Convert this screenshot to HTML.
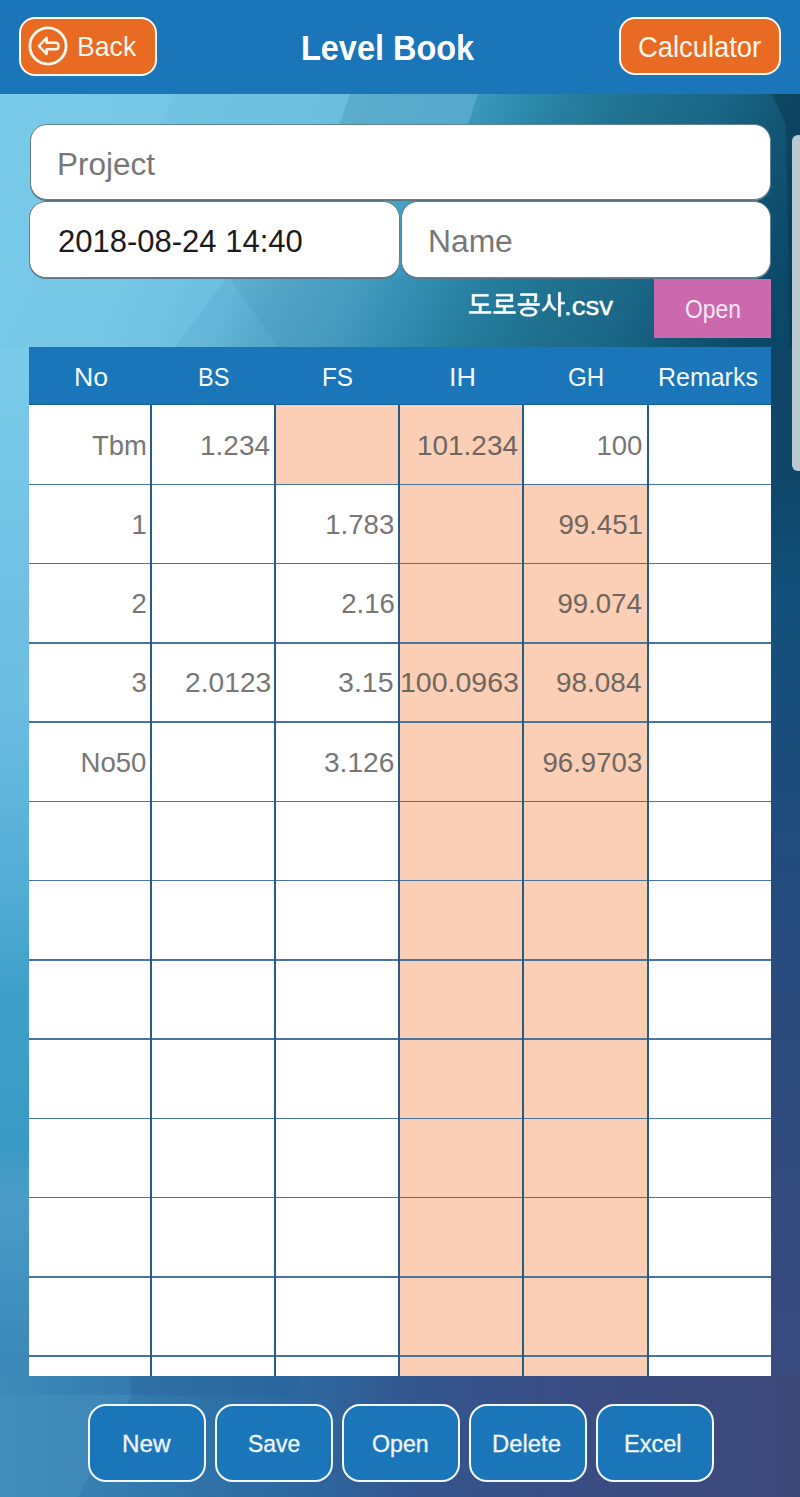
<!DOCTYPE html>
<html><head><meta charset="utf-8"><style>
html,body{margin:0;padding:0;width:800px;height:1497px;overflow:hidden;background:#2f80b4}
body{position:relative;font-family:"Liberation Sans",sans-serif}
.abs{position:absolute}
.tx{position:absolute;white-space:nowrap;transform-origin:0 0;font-family:"Liberation Sans",sans-serif}
</style></head><body>
<svg class="abs" style="left:0;top:0" width="800" height="400"><defs><linearGradient id="gt" gradientUnits="userSpaceOnUse" x1="0" y1="0" x2="820.8" y2="369"><stop offset="0.0000" stop-color="#7acbe9"/><stop offset="0.2444" stop-color="#76c7e6"/><stop offset="0.3667" stop-color="#6cbee0"/><stop offset="0.4111" stop-color="#5eb0d2"/><stop offset="0.5000" stop-color="#48a0c4"/><stop offset="0.5333" stop-color="#3a96ba"/><stop offset="0.5889" stop-color="#2c88aa"/><stop offset="0.6222" stop-color="#267e9e"/><stop offset="0.7111" stop-color="#1e6e8c"/><stop offset="0.7778" stop-color="#1a6686"/><stop offset="0.8444" stop-color="#125674"/><stop offset="0.9111" stop-color="#0c4a6a"/><stop offset="1.0000" stop-color="#0a4262"/></linearGradient></defs><rect x="0" y="94" width="800" height="253" fill="url(#gt)"/><polygon points="228,276 175,347 278,347" fill="rgba(40,120,160,0.10)"/><linearGradient id="gp" gradientUnits="userSpaceOnUse" x1="228" y1="0" x2="560" y2="0"><stop offset="0" stop-color="#145a82" stop-opacity="0.16"/><stop offset="1" stop-color="#145a82" stop-opacity="0"/></linearGradient><polygon points="228,276 560,276 560,347 278,347" fill="url(#gp)"/><polygon points="772,94 800,94 800,347 790,347 786,125" fill="rgba(5,40,60,0.35)"/><polygon points="175,94 350,94 340,124 160,124" fill="#6ec0e0" opacity="0.7"/><polygon points="350,94 478,94 468,124 340,124" fill="#5aaccc" opacity="0.85"/></svg>
<div class="abs" style="left:0;top:347px;width:30px;height:1030px;background:linear-gradient(180deg,#7acae9 0px,#6cbde2 350px,#52acd4 550px,#3d9fc8 650px,#3a9ac4 800px,#4a9cc6 850px,#4090c0 950px,#3a86b6 1030px)"></div>
<div class="abs" style="left:770px;top:347px;width:30px;height:1030px;background:linear-gradient(180deg,#0e4466 0px,#0f4668 130px,#12507a 250px,#1e4c7c 450px,#2a4a7c 650px,#3a4a80 1030px)"></div>
<div class="abs" style="left:0;top:1376px;width:800px;height:121px;background:linear-gradient(90deg,#3d8ab8 0px,#3780b2 90px,#2f72a8 200px,#2d68a0 300px,#34558e 420px,#3a4c82 600px,#3c4878 800px)"></div>
<svg class="abs" style="left:0;top:1376px" width="800" height="121"><polygon points="0,19 132,19 78,121 0,121" fill="#4a92c0" opacity="0.45"/><polygon points="130,0 300,0 290,22 132,19" fill="#24609a" opacity="0.35"/></svg>
<div class="abs" style="left:0;top:0;width:800px;height:94px;background:#1a75b9"></div>
<div class="abs" style="left:19px;top:17px;width:138px;height:59px;box-sizing:border-box;border:2.7px solid #fff8f2;border-radius:16px;background:#e86a23"></div>
<svg class="abs" style="left:0;top:0" width="100" height="94"><circle cx="48" cy="46" r="18.1" fill="none" stroke="#fff6ee" stroke-width="2.9"/><path d="M38.9 46 L46.6 37.9 L46.6 42.7 L56 42.7 Q58.5 42.7 58.5 46 Q58.5 49.3 56 49.3 L46.6 49.3 L46.6 54.1 Z" fill="none" stroke="#fff6ee" stroke-width="2.5" stroke-linejoin="round"/></svg>
<div class="abs" style="left:618.5px;top:16.75px;width:162.5px;height:58.5px;box-sizing:border-box;border:2.7px solid #fff8f2;border-radius:16px;background:#e86a23"></div>
<div class="abs" style="left:29.5px;top:124px;width:741px;height:76px;box-sizing:border-box;border:1.5px solid #62808e;border-radius:17px;background:#fff;box-shadow:0 1px 0 #5a7582"></div>
<div class="abs" style="left:29px;top:201px;width:371px;height:76.5px;box-sizing:border-box;border:1.5px solid #62808e;border-radius:17px;background:#fff;box-shadow:0 1px 0 #5a7582"></div>
<div class="abs" style="left:401px;top:201px;width:369.5px;height:76.5px;box-sizing:border-box;border:1.5px solid #62808e;border-radius:17px;background:#fff;box-shadow:0 1px 0 #5a7582"></div>
<div class="abs" style="left:654px;top:279px;width:117px;height:58.5px;background:#cc68ae"></div>
<div class="abs" style="left:792px;top:135px;width:12px;height:336px;border-radius:8px;background:#b8c9d2"></div>
<div class="abs" style="left:29px;top:405px;width:742px;height:971px;background:#fff"></div><div class="abs" style="left:276.00px;top:405.00px;width:121.75px;height:79.25px;background:#fbcfb6"></div><div class="abs" style="left:399.75px;top:405.00px;width:122.25px;height:79.25px;background:#fbcfb6"></div><div class="abs" style="left:399.75px;top:484.25px;width:122.25px;height:79.25px;background:#fbcfb6"></div><div class="abs" style="left:524.00px;top:484.25px;width:122.50px;height:79.25px;background:#fbcfb6"></div><div class="abs" style="left:399.75px;top:563.50px;width:122.25px;height:79.25px;background:#fbcfb6"></div><div class="abs" style="left:524.00px;top:563.50px;width:122.50px;height:79.25px;background:#fbcfb6"></div><div class="abs" style="left:399.75px;top:642.75px;width:122.25px;height:79.25px;background:#fbcfb6"></div><div class="abs" style="left:524.00px;top:642.75px;width:122.50px;height:79.25px;background:#fbcfb6"></div><div class="abs" style="left:399.75px;top:722.00px;width:122.25px;height:79.25px;background:#fbcfb6"></div><div class="abs" style="left:524.00px;top:722.00px;width:122.50px;height:79.25px;background:#fbcfb6"></div><div class="abs" style="left:399.75px;top:801.25px;width:122.25px;height:79.25px;background:#fbcfb6"></div><div class="abs" style="left:524.00px;top:801.25px;width:122.50px;height:79.25px;background:#fbcfb6"></div><div class="abs" style="left:399.75px;top:880.50px;width:122.25px;height:79.25px;background:#fbcfb6"></div><div class="abs" style="left:524.00px;top:880.50px;width:122.50px;height:79.25px;background:#fbcfb6"></div><div class="abs" style="left:399.75px;top:959.75px;width:122.25px;height:79.25px;background:#fbcfb6"></div><div class="abs" style="left:524.00px;top:959.75px;width:122.50px;height:79.25px;background:#fbcfb6"></div><div class="abs" style="left:399.75px;top:1039.00px;width:122.25px;height:79.25px;background:#fbcfb6"></div><div class="abs" style="left:524.00px;top:1039.00px;width:122.50px;height:79.25px;background:#fbcfb6"></div><div class="abs" style="left:399.75px;top:1118.25px;width:122.25px;height:79.25px;background:#fbcfb6"></div><div class="abs" style="left:524.00px;top:1118.25px;width:122.50px;height:79.25px;background:#fbcfb6"></div><div class="abs" style="left:399.75px;top:1197.50px;width:122.25px;height:79.25px;background:#fbcfb6"></div><div class="abs" style="left:524.00px;top:1197.50px;width:122.50px;height:79.25px;background:#fbcfb6"></div><div class="abs" style="left:399.75px;top:1276.75px;width:122.25px;height:79.25px;background:#fbcfb6"></div><div class="abs" style="left:524.00px;top:1276.75px;width:122.50px;height:79.25px;background:#fbcfb6"></div><div class="abs" style="left:399.75px;top:1356.00px;width:122.25px;height:20.00px;background:#fbcfb6"></div><div class="abs" style="left:524.00px;top:1356.00px;width:122.50px;height:20.00px;background:#fbcfb6"></div><div class="abs" style="left:29px;top:483.50px;width:742px;height:1.5px;background:#4a74a0"></div><div class="abs" style="left:29px;top:562.75px;width:742px;height:1.5px;background:#4a74a0"></div><div class="abs" style="left:29px;top:642.00px;width:742px;height:1.5px;background:#4a74a0"></div><div class="abs" style="left:29px;top:721.25px;width:742px;height:1.5px;background:#4a74a0"></div><div class="abs" style="left:29px;top:800.50px;width:742px;height:1.5px;background:#4a74a0"></div><div class="abs" style="left:29px;top:879.75px;width:742px;height:1.5px;background:#4a74a0"></div><div class="abs" style="left:29px;top:959.00px;width:742px;height:1.5px;background:#4a74a0"></div><div class="abs" style="left:29px;top:1038.25px;width:742px;height:1.5px;background:#4a74a0"></div><div class="abs" style="left:29px;top:1117.50px;width:742px;height:1.5px;background:#4a74a0"></div><div class="abs" style="left:29px;top:1196.75px;width:742px;height:1.5px;background:#4a74a0"></div><div class="abs" style="left:29px;top:1276.00px;width:742px;height:1.5px;background:#4a74a0"></div><div class="abs" style="left:29px;top:1355.25px;width:742px;height:1.5px;background:#4a74a0"></div><div class="abs" style="left:150.40px;top:405px;width:2px;height:971px;background:#245c8e"></div><div class="abs" style="left:274.00px;top:405px;width:2px;height:971px;background:#245c8e"></div><div class="abs" style="left:397.75px;top:405px;width:2px;height:971px;background:#245c8e"></div><div class="abs" style="left:522.00px;top:405px;width:2px;height:971px;background:#245c8e"></div><div class="abs" style="left:646.50px;top:405px;width:2px;height:971px;background:#245c8e"></div><div class="abs" style="left:29px;top:347px;width:742px;height:58px;background:#1a75b9;border-bottom:1px solid #17609e;box-sizing:border-box"></div>
<div class="abs" style="left:88px;top:1404px;width:117.6px;height:78.4px;box-sizing:border-box;border:2.6px solid #f4f8fc;border-radius:18px;background:#1a75b9"></div><div class="abs" style="left:215px;top:1404px;width:117.6px;height:78.4px;box-sizing:border-box;border:2.6px solid #f4f8fc;border-radius:18px;background:#1a75b9"></div><div class="abs" style="left:342px;top:1404px;width:117.6px;height:78.4px;box-sizing:border-box;border:2.6px solid #f4f8fc;border-radius:18px;background:#1a75b9"></div><div class="abs" style="left:469px;top:1404px;width:117.6px;height:78.4px;box-sizing:border-box;border:2.6px solid #f4f8fc;border-radius:18px;background:#1a75b9"></div><div class="abs" style="left:596px;top:1404px;width:117.6px;height:78.4px;box-sizing:border-box;border:2.6px solid #f4f8fc;border-radius:18px;background:#1a75b9"></div>
<svg class="abs" style="left:0;top:0" width="800" height="400" aria-label="도로공사"><path fill="#fff" stroke="#fff" stroke-width="28" stroke-linejoin="round" transform="translate(468.1,314.3) scale(0.0264)" d="M154 -754V-337H417V-105H50V-36H870V-105H499V-337H775V-404H237V-686H766V-754Z M1072 -340V-272H1337V-103H970V-34H1790V-103H1419V-272H1709V-340H1154V-486H1688V-760H1070V-692H1606V-552H1072Z M2295 -256C2103 -256 1981 -194 1981 -89C1981 14 2103 76 2295 76C2488 76 2610 14 2610 -89C2610 -194 2488 -256 2295 -256ZM2295 -192C2437 -192 2528 -153 2528 -89C2528 -27 2437 11 2295 11C2154 11 2063 -27 2063 -89C2063 -153 2154 -192 2295 -192ZM1987 -781V-714H2521V-705C2521 -634 2521 -567 2497 -474L2578 -465C2603 -558 2603 -632 2603 -705V-781ZM2226 -580V-406H1891V-338H2706V-406H2308V-580Z M3031 -749V-587C3031 -421 2929 -248 2797 -182L2848 -115C2950 -169 3033 -282 3073 -415C3113 -290 3194 -184 3292 -133L3343 -199C3215 -263 3113 -427 3113 -587V-749ZM3422 -827V78H3505V-390H3653V-461H3505V-827Z"/></svg>
<span class="tx" style="left:77.48px;top:33.47px;font-size:27.8px;line-height:27.8px;color:#fff6ee;transform:scaleX(0.9583);">Back</span><span class="tx" style="left:301.12px;top:31.11px;font-size:34.6px;line-height:34.6px;color:#ffffff;font-weight:bold;transform:scaleX(0.9382);">Level Book</span><span class="tx" style="left:637.84px;top:32.79px;font-size:28.6px;line-height:28.6px;color:#fff6ee;transform:scaleX(0.9567);">Calculator</span><span class="tx" style="left:57.34px;top:148.90px;font-size:30.6px;line-height:30.6px;color:#777777;transform:scaleX(1.0280);">Project</span><span class="tx" style="left:58.00px;top:225.76px;font-size:31px;line-height:31px;color:#1b1b1b;">2018-08-24 14:40</span><span class="tx" style="left:427.95px;top:226.26px;font-size:31px;line-height:31px;color:#777777;transform:scaleX(1.0253);">Name</span><span class="tx" style="left:563.91px;top:292.57px;font-size:26.5px;line-height:26.5px;color:#ffffff;transform:scaleX(1.0444);-webkit-text-stroke:0.4px #fff;">.csv</span><span class="tx" style="left:685.10px;top:297.00px;font-size:25.4px;line-height:25.4px;color:#f6e8f4;transform:scaleX(0.9000);">Open</span><span class="tx" style="left:73.55px;top:363.99px;font-size:26px;line-height:26px;color:#f4f8fc;transform:scaleX(1.0267);">No</span><span class="tx" style="left:198.19px;top:363.99px;font-size:26px;line-height:26px;color:#f4f8fc;transform:scaleX(0.9062);">BS</span><span class="tx" style="left:322.13px;top:363.99px;font-size:26px;line-height:26px;color:#f4f8fc;transform:scaleX(0.9333);">FS</span><span class="tx" style="left:448.73px;top:363.99px;font-size:26px;line-height:26px;color:#f4f8fc;transform:scaleX(1.0364);">IH</span><span class="tx" style="left:567.67px;top:363.99px;font-size:26px;line-height:26px;color:#f4f8fc;transform:scaleX(0.9278);">GH</span><span class="tx" style="left:658.08px;top:363.99px;font-size:26px;line-height:26px;color:#f4f8fc;transform:scaleX(0.9604);">Remarks</span><span class="tx" style="left:92.00px;top:431.64px;font-size:27.6px;line-height:27.6px;color:#777777;transform:scaleX(0.9926);">Tbm</span><span class="tx" style="left:200.47px;top:431.64px;font-size:27.6px;line-height:27.6px;color:#777777;transform:scaleX(1.0136);">1.234</span><span class="tx" style="left:417.38px;top:431.64px;font-size:27.6px;line-height:27.6px;color:#6e6660;transform:scaleX(1.0124);">101.234</span><span class="tx" style="left:596.40px;top:431.64px;font-size:27.6px;line-height:27.6px;color:#777777;">100</span><span class="tx" style="left:131.60px;top:510.89px;font-size:27.6px;line-height:27.6px;color:#777777;">1</span><span class="tx" style="left:325.20px;top:510.89px;font-size:27.6px;line-height:27.6px;color:#777777;">1.783</span><span class="tx" style="left:558.50px;top:510.89px;font-size:27.6px;line-height:27.6px;color:#6e6660;">99.451</span><span class="tx" style="left:131.60px;top:590.14px;font-size:27.6px;line-height:27.6px;color:#777777;">2</span><span class="tx" style="left:341.20px;top:590.14px;font-size:27.6px;line-height:27.6px;color:#777777;">2.16</span><span class="tx" style="left:557.50px;top:590.14px;font-size:27.6px;line-height:27.6px;color:#6e6660;">99.074</span><span class="tx" style="left:131.60px;top:669.39px;font-size:27.6px;line-height:27.6px;color:#777777;">3</span><span class="tx" style="left:184.58px;top:669.39px;font-size:27.6px;line-height:27.6px;color:#777777;transform:scaleX(1.0220);">2.0123</span><span class="tx" style="left:338.37px;top:669.39px;font-size:27.6px;line-height:27.6px;color:#777777;transform:scaleX(1.0346);">3.15</span><span class="tx" style="left:399.83px;top:669.39px;font-size:27.6px;line-height:27.6px;color:#6e6660;transform:scaleX(1.0330);">100.0963</span><span class="tx" style="left:556.49px;top:669.39px;font-size:27.6px;line-height:27.6px;color:#6e6660;transform:scaleX(1.0120);">98.084</span><span class="tx" style="left:80.50px;top:748.64px;font-size:27.6px;line-height:27.6px;color:#777777;">No50</span><span class="tx" style="left:323.98px;top:748.64px;font-size:27.6px;line-height:27.6px;color:#777777;transform:scaleX(1.0179);">3.126</span><span class="tx" style="left:542.50px;top:748.64px;font-size:27.6px;line-height:27.6px;color:#6e6660;">96.9703</span><span class="tx" style="left:121.63px;top:1432.38px;font-size:24.6px;line-height:24.6px;color:#eef4fa;transform:scaleX(0.9872);-webkit-text-stroke:0.35px #eef4fa;">New</span><span class="tx" style="left:247.82px;top:1432.38px;font-size:24.6px;line-height:24.6px;color:#eef4fa;transform:scaleX(0.9324);-webkit-text-stroke:0.35px #eef4fa;">Save</span><span class="tx" style="left:371.96px;top:1432.38px;font-size:24.6px;line-height:24.6px;color:#eef4fa;transform:scaleX(0.9414);-webkit-text-stroke:0.35px #eef4fa;">Open</span><span class="tx" style="left:492.16px;top:1432.38px;font-size:24.6px;line-height:24.6px;color:#eef4fa;transform:scaleX(0.9706);-webkit-text-stroke:0.35px #eef4fa;">Delete</span><span class="tx" style="left:624.48px;top:1432.38px;font-size:24.6px;line-height:24.6px;color:#eef4fa;transform:scaleX(0.9579);-webkit-text-stroke:0.35px #eef4fa;">Excel</span>
</body></html>
